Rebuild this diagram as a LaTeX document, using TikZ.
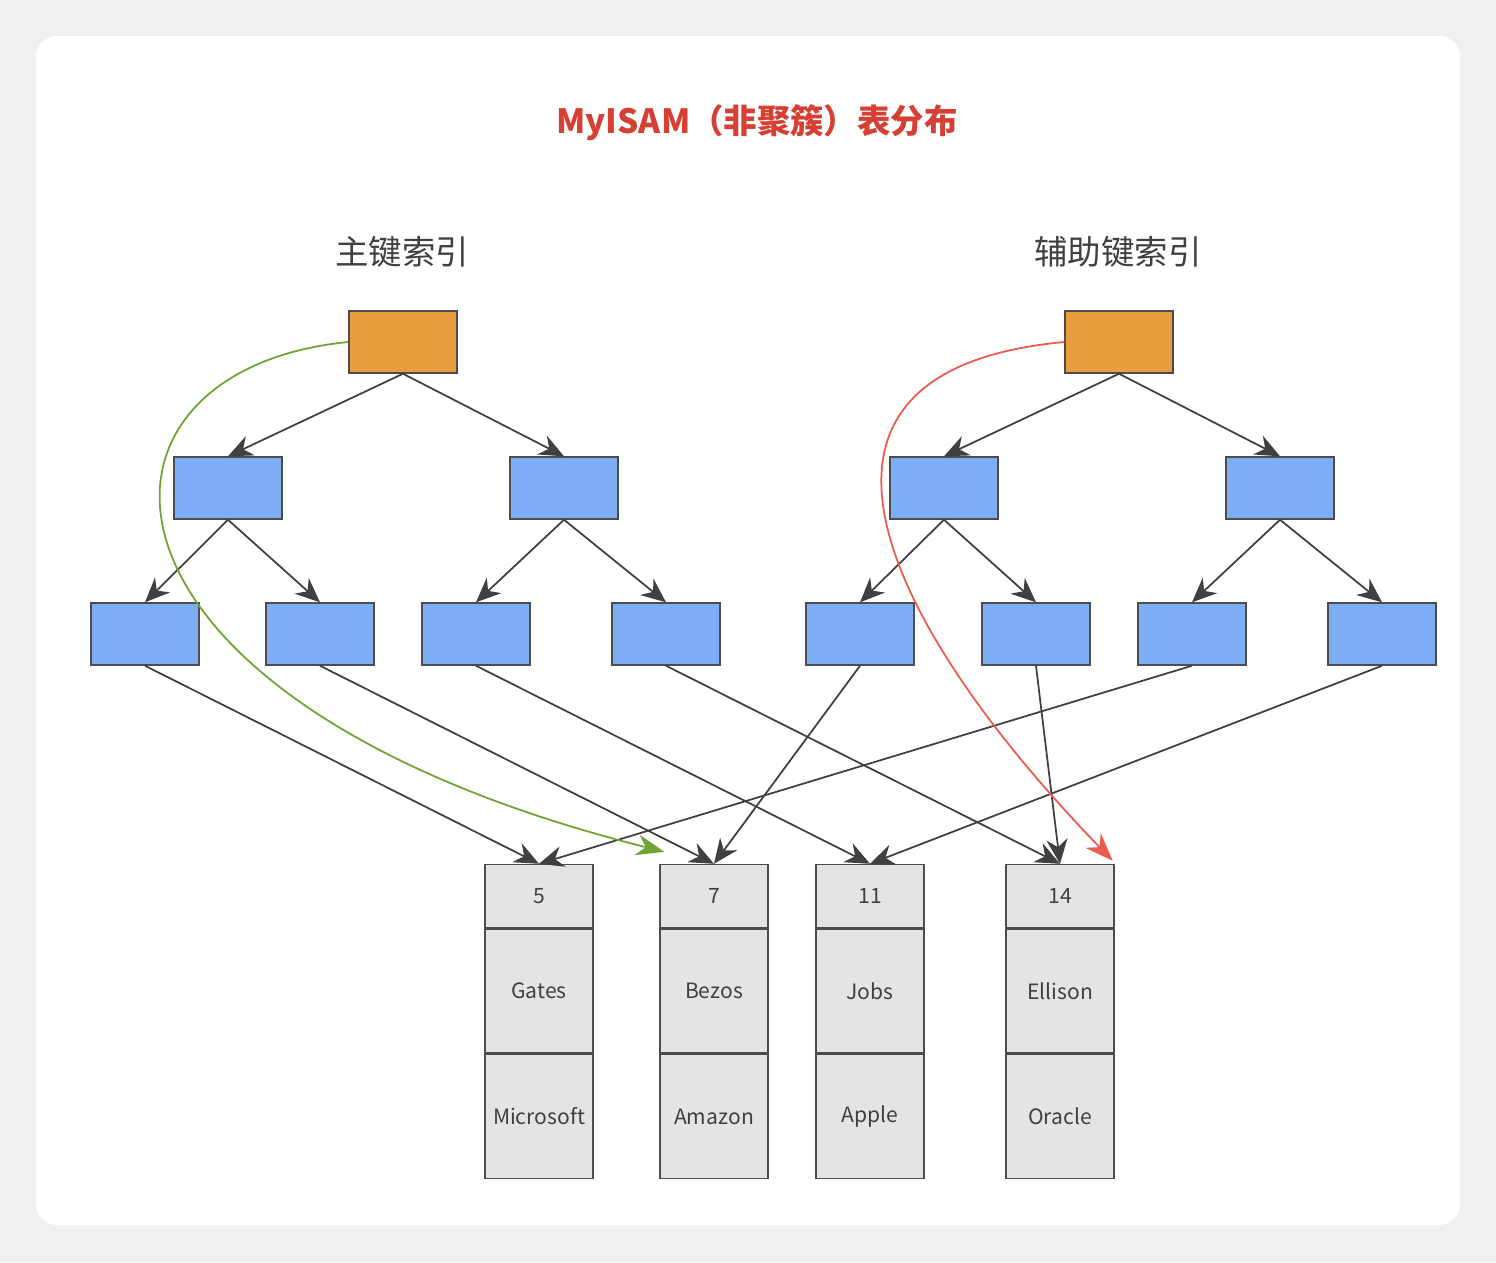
\documentclass[tikz,border=0pt]{standalone}
\usepackage{fontspec}
\setmainfont{Noto Sans CJK SC}
\usetikzlibrary{arrows.meta, positioning, calc}
\definecolor{rootcolor}{RGB}{234,157,62}
\definecolor{nodecolor}{RGB}{125,173,245}
\definecolor{recordcolor}{RGB}{228,228,228}
\definecolor{titlecolor}{RGB}{214,64,52}
\definecolor{greencurve}{RGB}{110,165,50}
\definecolor{redcurve}{RGB}{236,90,80}
\tikzset{
  arrow/.style = {draw=black!75, line width=0.5pt, -{Stealth[length=7pt,width=6pt]}},
  rootbox/.style = {rectangle, draw=black!70, fill=rootcolor, minimum width=1.08cm, minimum height=0.62cm, inner sep=0pt},
  treebox/.style = {rectangle, draw=black!70, fill=nodecolor, minimum width=1.08cm, minimum height=0.62cm, inner sep=0pt},
  cellhead/.style = {rectangle, draw=black!70, fill=recordcolor, minimum width=1.08cm, minimum height=0.63cm, inner sep=0pt, font=\fontsize{6}{7}\selectfont, text=black!75},
  cell/.style = {rectangle, draw=black!70, fill=recordcolor, minimum width=1.08cm, minimum height=1.24cm, inner sep=0pt, font=\fontsize{6}{7}\selectfont, text=black!75}
}
\begin{document}
\begin{tikzpicture}[x=0.01cm, y=-0.01cm]
\useasboundingbox (0,0) rectangle (1496,1262);
\fill[black!6] (0,0) rectangle (1496,1262);
\fill[white, rounded corners=6pt] (36,36) rectangle (1460,1225);

% Titles
\node[text=titlecolor, font=\fontsize{9.5}{11}\selectfont\bfseries] (title) at (757,123) {MyISAM（非聚簇）表分布};
\node[text=black!75, font=\fontsize{9.5}{11}\selectfont] (plabel) at (402,252) {主键索引};
\node[text=black!75, font=\fontsize{9.5}{11}\selectfont] (slabel) at (1118,252) {辅助键索引};

% Primary key tree
\node[rootbox] (proot) at (403,342) {};
\node[treebox] (pa) at (228,488) {};
\node[treebox] (pb) at (564,488) {};
\node[treebox] (paa) at (145,634) {};
\node[treebox] (pab) at (320,634) {};
\node[treebox] (pba) at (476,634) {};
\node[treebox] (pbb) at (666,634) {};

% Secondary key tree
\node[rootbox] (sroot) at (1119,342) {};
\node[treebox] (sa) at (944,488) {};
\node[treebox] (sb) at (1280,488) {};
\node[treebox] (saa) at (860,634) {};
\node[treebox] (sab) at (1036,634) {};
\node[treebox] (sba) at (1192,634) {};
\node[treebox] (sbb) at (1382,634) {};

% Records
\node[cellhead] (r5) at (539,896) {5};
\node[cell, below=0pt of r5] (r5name) {Gates};
\node[cell, below=0pt of r5name] (r5corp) {Microsoft};
\node[cellhead] (r7) at (714,896) {7};
\node[cell, below=0pt of r7] (r7name) {Bezos};
\node[cell, below=0pt of r7name] (r7corp) {Amazon};
\node[cellhead] (r11) at (870,896) {11};
\node[cell, below=0pt of r11] (r11name) {Jobs};
\node[cell, below=0pt of r11name] (r11corp) {Apple};
\node[cellhead] (r14) at (1060,896) {14};
\node[cell, below=0pt of r14] (r14name) {Ellison};
\node[cell, below=0pt of r14name] (r14corp) {Oracle};

% Tree edges
\foreach \from/\to in {proot/pa, proot/pb, pa/paa, pa/pab, pb/pba, pb/pbb,
                       sroot/sa, sroot/sb, sa/saa, sa/sab, sb/sba, sb/sbb}
  \draw[arrow] (\from.south) -- (\to.north);

% Leaf to record
\foreach \from/\to in {paa/r5, pab/r7, pba/r11, pbb/r14,
                       saa/r7, sab/r14, sba/r5, sbb/r11}
  \draw[arrow] (\from.south) -- (\to.north);

% Lookup paths
\draw[greencurve, line width=0.5pt, -{Stealth[length=8pt,width=6pt]}] (proot.west) .. controls (60,370) and (60,700) .. ($(r7.north west)+(5,-12)$);
\draw[redcurve, line width=0.5pt, -{Stealth[length=8pt,width=6pt]}] (sroot.west) .. controls (760,370) and (880,620) .. ($(r14.north east)+(-2,-3)$);
\end{tikzpicture}
\end{document}
